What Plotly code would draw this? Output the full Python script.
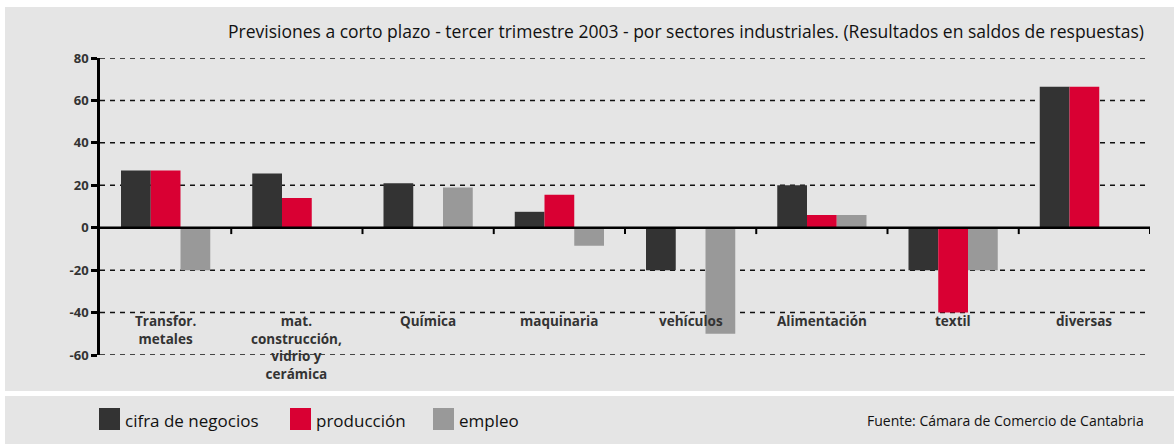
import plotly.graph_objects as go

categories = ["Transfor.<br>metales", "mat.<br>construcción,<br>vidrio y<br>cerámica", "Química",
              "maquinaria", "vehículos", "Alimentación", "textil", "diversas"]
cifra_negocios = [27, 25.5, 21, 7.5, -20, 20, -20, 66.5]
produccion = [27, 14, 0, 15.5, 0, 6, -40, 66.5]
empleo = [-20, 0, 19, -8.5, -50, 6, -20, 0]
y_ticks = [-60, -40, -20, 0, 20, 40, 60, 80]
y_tick_labels = ["-60", "-40", "-20", "0", "20", "40", "60", "80"]

series_names = ["cifra de negocios", "producción", "empleo"]
colors = ["#333333", "#d90033", "#999999"]

W, H = 1174, 444
L, R, T, B = 100, 24, 58, 89
FONT = "'Open Sans', Lato, sans-serif"

fig = go.Figure()
idx = list(range(len(categories)))
for name, vals, col in zip(series_names, [cifra_negocios, produccion, empleo], colors):
    fig.add_trace(go.Bar(x=idx, y=vals, name=name, marker=dict(color=col, line=dict(width=0)),
                         showlegend=False))

def px_x(p):
    return (p - L) / (W - L - R)

def px_y(p):
    return 1 - (p - T) / (H - T - B)

shapes = []
# background panels
shapes.append(dict(type="rect", xref="paper", yref="paper", x0=px_x(5), x1=px_x(1174),
                   y0=px_y(391), y1=px_y(7), fillcolor="#e5e5e5", line=dict(width=0), layer="below"))
shapes.append(dict(type="rect", xref="paper", yref="paper", x0=px_x(5), x1=px_x(1174),
                   y0=px_y(444), y1=px_y(396), fillcolor="#e5e5e5", line=dict(width=0), layer="below"))
# dashed gridlines (except zero)
for t in y_ticks:
    if t != 0:
        shapes.append(dict(type="line", xref="paper", yref="y", x0=0, x1=1, y0=t, y1=t,
                           line=dict(color="#111111", width=1.5, dash="5px,5px"), layer="below"))
# zero axis line
shapes.append(dict(type="line", xref="paper", yref="y", x0=0, x1=1, y0=0, y1=0,
                   line=dict(color="#000000", width=2.5)))
# category boundary ticks on zero line
for k in range(1, len(categories) + 1):
    shapes.append(dict(type="line", xref="x", yref="y", x0=k - 0.5, x1=k - 0.5, y0=0, y1=-3,
                       line=dict(color="#000000", width=2)))

annotations = []
# category labels placed under -40 gridline
for i, c in enumerate(categories):
    annotations.append(dict(x=i, y=-39, xref="x", yref="y", text=c, showarrow=False,
                            yanchor="top", xanchor="center",
                            font=dict(family=FONT, size=13.5, color="#333333", weight="bold"),
                            align="center"))
# title
annotations.append(dict(x=px_x(1146), y=px_y(31), xref="paper", yref="paper", xanchor="right",
                        yanchor="middle", showarrow=False,
                        text="Previsiones a corto plazo - tercer trimestre 2003 - por sectores industriales. (Resultados en saldos de respuestas)",
                        font=dict(family=FONT, size=17.5, color="#111111")))
# legend
leg_x = [99, 290, 433]
for lx, name, col in zip(leg_x, series_names, colors):
    shapes.append(dict(type="rect", xref="paper", yref="paper", x0=px_x(lx), x1=px_x(lx + 21),
                       y0=px_y(430), y1=px_y(408), fillcolor=col, line=dict(width=0)))
    annotations.append(dict(x=px_x(lx + 24), y=px_y(420), xref="paper", yref="paper", xanchor="left",
                            yanchor="middle", showarrow=False, text=name,
                            font=dict(family=FONT, size=17, color="#111111")))
annotations.append(dict(x=px_x(1146), y=px_y(420), xref="paper", yref="paper", xanchor="right",
                        yanchor="middle", showarrow=False, text="Fuente: Cámara de Comercio de Cantabria",
                        font=dict(family=FONT, size=14, color="#111111")))

fig.update_layout(
    width=W, height=H,
    margin=dict(l=L, r=R, t=T, b=B),
    paper_bgcolor="white", plot_bgcolor="rgba(0,0,0,0)",
    barmode="group", bargap=0.32, bargroupgap=0,
    shapes=shapes, annotations=annotations,
    showlegend=False,
    xaxis=dict(range=[-0.5, len(categories) - 0.5], showticklabels=False, showgrid=False,
               zeroline=False, showline=False, ticks=""),
    yaxis=dict(range=[-60, 80], tickvals=y_ticks, ticktext=y_tick_labels, showgrid=False,
               zeroline=False, automargin=False,
               showline=True, linecolor="#000000", linewidth=2.5, ticks="outside", ticklen=6,
               tickwidth=2.5, tickcolor="#000000",
               tickfont=dict(family=FONT, size=13, color="#333333", weight="bold")),
)

fig.write_html("out.html", config={"displayModeBar": False},
               post_script="document.body.style.margin='0';document.body.style.padding='0';")
